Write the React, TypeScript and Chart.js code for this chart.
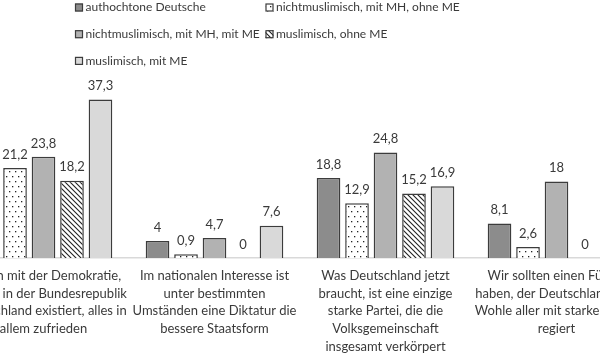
import React, { useEffect, useRef } from "react";
import { Chart, registerables } from "chart.js";

Chart.register(...registerables);

// ---------- data ----------
const categories: string[][] = [
  ["Ich bin mit der Demokratie,", "wie sie in der Bundesrepublik", "Deutschland existiert, alles in", "allem zufrieden"],
  ["Im nationalen Interesse ist", "unter bestimmten", "Umständen eine Diktatur die", "bessere Staatsform"],
  ["Was Deutschland jetzt", "braucht, ist eine einzige", "starke Partei, die die", "Volksgemeinschaft", "insgesamt verkörpert"],
  ["Wir sollten einen Führer", "haben, der Deutschland zum", "Wohle aller mit starker Hand", "regiert"],
];
const seriesNames = [
  "authochtone Deutsche",
  "nichtmuslimisch, mit MH, ohne ME",
  "nichtmuslimisch, mit MH, mit ME",
  "muslimisch, ohne ME",
  "muslimisch, mit ME",
];
const authochtoneDeutsche = [15.3, 4, 18.8, 8.1];
const nichtmuslimOhneME = [21.2, 0.9, 12.9, 2.6];
const nichtmuslimMitME = [23.8, 4.7, 24.8, 18];
const muslimOhneME = [18.2, 0, 15.2, 0];
const muslimMitME = [37.3, 7.6, 16.9, 5.3];

// ---------- style ----------
const FONT = "Lato";
const TEXT = "#3a3a3a";
const BORDER = "#3c3c3c";
const CANVAS_W = 764;
const CANVAS_H = 356;
const OFFSET = 82; // canvas is shifted left by this many px

function dotPattern(): CanvasPattern | string {
  const w = 6;
  const h = 10;
  const c = document.createElement("canvas");
  c.width = w;
  c.height = h;
  const g = c.getContext("2d");
  if (!g) return "#fff";
  g.fillStyle = "#ffffff";
  g.fillRect(0, 0, w, h);
  g.fillStyle = "#222";
  g.fillRect(1, 1, 1.3, 1.3);
  g.fillRect(4, 6, 1.3, 1.3);
  return g.createPattern(c, "repeat") || "#fff";
}

function hatchPattern(): CanvasPattern | string {
  const s = 5;
  const c = document.createElement("canvas");
  c.width = s;
  c.height = s;
  const g = c.getContext("2d");
  if (!g) return "#fff";
  g.fillStyle = "#ffffff";
  g.fillRect(0, 0, s, s);
  g.strokeStyle = "#222";
  g.lineWidth = 1.1;
  g.beginPath();
  g.moveTo(-1, -1);
  g.lineTo(s + 1, s + 1);
  g.moveTo(-1, s - 1);
  g.lineTo(1, s + 1);
  g.moveTo(s - 1, -1);
  g.lineTo(s + 1, 1);
  g.stroke();
  return g.createPattern(c, "repeat") || "#fff";
}

const valueLabels = {
  id: "valueLabels",
  afterDatasetsDraw(chart: any) {
    const ctx = chart.ctx;
    ctx.save();
    ctx.font = `13px ${FONT}`;
    ctx.fillStyle = TEXT;
    ctx.textAlign = "center";
    ctx.textBaseline = "bottom";
    chart.data.datasets.forEach((ds: any, i: number) => {
      const meta = chart.getDatasetMeta(i);
      meta.data.forEach((bar: any, j: number) => {
        const v = ds.data[j];
        if (v === null || v === undefined) return;
        ctx.fillText(String(v).replace(".", ","), bar.x, bar.y - 7);
      });
    });
    ctx.restore();
  },
};

const customLegend = {
  id: "customLegend",
  afterDraw(chart: any) {
    const ctx = chart.ctx;
    ctx.save();
    ctx.font = `12px ${FONT}`;
    ctx.textBaseline = "middle";
    ctx.textAlign = "left";
    chart.data.datasets.forEach((ds: any, i: number) => {
      const col = i % 2;
      const row = Math.floor(i / 2);
      const x = OFFSET + (col ? 265.5 : 75);
      const y = 7.5 + row * 26.7;
      ctx.fillStyle = ds.backgroundColor;
      ctx.fillRect(x, y - 4, 8, 8);
      ctx.strokeStyle = BORDER;
      ctx.lineWidth = 1.2;
      ctx.strokeRect(x + 0.5, y - 3.5, 7, 7);
      ctx.fillStyle = TEXT;
      ctx.fillText(ds.label, x + 10.5, y);
    });
    ctx.restore();
  },
};

export default function App() {
  const ref = useRef<HTMLCanvasElement | null>(null);

  useEffect(() => {
    if (!ref.current) return;
    const fills: any[] = ["#8c8c8c", dotPattern(), "#b2b2b2", hatchPattern(), "#d9d9d9"];
    const values = [authochtoneDeutsche, nichtmuslimOhneME, nichtmuslimMitME, muslimOhneME, muslimMitME];
    const chart = new Chart(ref.current, {
      type: "bar",
      data: {
        labels: categories,
        datasets: values.map((d, i) => ({
          label: seriesNames[i],
          data: d,
          backgroundColor: fills[i],
          borderColor: BORDER,
          borderWidth: 1.5,
          categoryPercentage: 0.833,
          barPercentage: 0.83,
        })),
      },
      options: {
        animation: false,
        responsive: false,
        devicePixelRatio: 1,
        layout: { padding: { left: 40, right: 40, top: 88, bottom: 0 } },
        plugins: { legend: { display: false }, tooltip: { enabled: false } },
        scales: {
          x: {
            grid: { display: false, drawTicks: false },
            border: { display: true, color: "#d9d9d9", width: 1.5 },
            ticks: {
              color: TEXT,
              padding: 9,
              maxRotation: 0,
              minRotation: 0,
              autoSkip: false,
              font: { family: FONT, size: 13, lineHeight: "17.7px" },
            },
            afterFit: (s: any) => {
              s.height = 98;
            },
          },
          y: { display: false, min: 0, max: 40 },
        },
      },
      plugins: [valueLabels, customLegend],
    });
    return () => chart.destroy();
  }, []);

  return (
    <div style={{ position: "fixed", left: 0, top: 0, width: 600, height: 356, overflow: "hidden", background: "#fff" }}>
      <canvas
        ref={ref}
        width={CANVAS_W}
        height={CANVAS_H}
        style={{ position: "absolute", left: -OFFSET, top: 0, width: CANVAS_W, height: CANVAS_H }}
      />
    </div>
  );
}
